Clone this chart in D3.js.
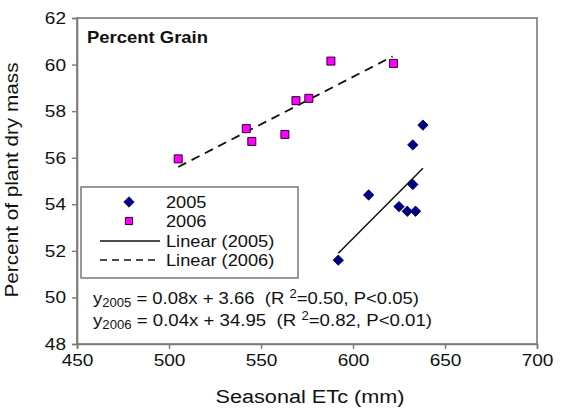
<!DOCTYPE html>
<html><head><meta charset="utf-8">
<script src="https://cdn.jsdelivr.net/npm/d3@7"></script>
<style>
html,body{margin:0;padding:0;background:#fff;}
text{font-family:"Liberation Sans",Arial,Helvetica,sans-serif;fill:#111;}
</style></head>
<body><svg id="chart" width="561" height="412"></svg>
<script>
// ---- data ----
const xTicks = [450, 500, 550, 600, 650, 700];
const yTicks = [48, 50, 52, 54, 56, 58, 60, 62];
const etc2005 = [592, 608.5, 625, 629.5, 634, 632.5, 632.5, 638];
const grain2005 = [51.6, 54.4, 53.9, 53.7, 53.7, 54.85, 56.55, 57.4];
const etc2006 = [505, 542, 545, 563, 569, 576, 588, 622];
const grain2006 = [55.95, 57.25, 56.7, 57.0, 58.45, 58.55, 60.15, 60.05];
const trendX2005 = [592, 638];
const trendY2005 = [51.9, 55.55];
const trendX2006 = [505, 621.5];
const trendY2006 = [55.6, 60.35];
const legendLabels = ["2005", "2006", "Linear (2005)", "Linear (2006)"];
const eq2005 = {sub: "2005", body: " = 0.08x + 3.66  (R ", sup: "2", tail: "=0.50, P<0.05)"};
const eq2006 = {sub: "2006", body: " = 0.04x + 34.95  (R ", sup: "2", tail: "=0.82, P<0.01)"};

// ---- layout ----
const svg = d3.select("#chart");
const L = 77, R = 537, T = 18, B = 344;
const x = d3.scaleLinear().domain([450, 700]).range([L, R]);
const y = d3.scaleLinear().domain([48, 62]).range([B, T]);
const axisColor = "#7a7a7a";

// widen text glyphs (reference font is wider than Liberation Sans)
function widen(sel, k) {
  sel.each(function () {
    const w = this.getComputedTextLength();
    d3.select(this).attr("textLength", w * k).attr("lengthAdjust", "spacingAndGlyphs");
  });
}
function fitTo(sel, w) {
  sel.attr("textLength", w).attr("lengthAdjust", "spacingAndGlyphs");
}

// frame
svg.append("rect").attr("x", L).attr("y", T).attr("width", R - L).attr("height", B - T)
  .attr("fill", "none").attr("stroke", axisColor).attr("stroke-width", 1.6);

// axes
const xa = svg.append("g").attr("transform", `translate(0,${B})`)
  .call(d3.axisBottom(x).tickValues(xTicks).tickSize(5).tickPadding(5).tickFormat(d3.format("d")));
const ya = svg.append("g").attr("transform", `translate(${L},0)`)
  .call(d3.axisLeft(y).tickValues(yTicks).tickSize(5).tickPadding(6).tickFormat(d3.format("d")));
[xa, ya].forEach(a => {
  a.select(".domain").attr("stroke", axisColor).attr("stroke-width", 1.6);
  a.selectAll(".tick line").attr("stroke", axisColor).attr("stroke-width", 1.4);
  a.selectAll(".tick text").attr("font-size", 17).attr("fill", "#111")
    .style("font-family", "'Liberation Sans',Arial,sans-serif");
  widen(a.selectAll(".tick text"), 1.12);
});

// axis titles
fitTo(svg.append("text").attr("x", 310).attr("y", 403).attr("text-anchor", "middle")
  .attr("font-size", 18).text("Seasonal ETc (mm)"), 189);
fitTo(svg.append("text").attr("transform", "translate(18,180) rotate(-90)").attr("text-anchor", "middle")
  .attr("font-size", 17.5).text("Percent of plant dry mass"), 235);

// panel title
fitTo(svg.append("text").attr("x", 87).attr("y", 43).attr("font-size", 17).attr("font-weight", "bold")
  .text("Percent Grain"), 121);

// trend lines
const line = d3.line().x(d => x(d[0])).y(d => y(d[1]));
svg.append("path").datum(d3.zip(trendX2005, trendY2005)).attr("d", line)
  .attr("fill", "none").attr("stroke", "#111").attr("stroke-width", 1.5);
svg.append("path").datum(d3.zip(trendX2006, trendY2006)).attr("d", line)
  .attr("fill", "none").attr("stroke", "#111").attr("stroke-width", 1.8).attr("stroke-dasharray", "9,6");

// symbols
const diamond = d3.symbol().type(d3.symbolSquare).size(54);
const square = d3.symbol().type(d3.symbolSquare).size(64);
svg.append("g").selectAll("path").data(d3.zip(etc2005, grain2005)).join("path")
  .attr("d", diamond).attr("transform", d => `translate(${x(d[0])},${y(d[1])}) rotate(45)`)
  .attr("fill", "#000080").attr("stroke", "#000060").attr("stroke-width", 0.8);
svg.append("g").selectAll("path").data(d3.zip(etc2006, grain2006)).join("path")
  .attr("d", square).attr("transform", d => `translate(${x(d[0])},${y(d[1])})`)
  .attr("fill", "#ff00ff").attr("stroke", "#2a0030").attr("stroke-width", 1);

// legend
const lg = svg.append("g");
lg.append("rect").attr("x", 81).attr("y", 187).attr("width", 217).attr("height", 91)
  .attr("fill", "#fff").attr("stroke", axisColor).attr("stroke-width", 1.5);
const rowY = [202, 221, 241, 260];
lg.append("path").attr("d", diamond).attr("transform", `translate(129,${rowY[0]}) rotate(45)`)
  .attr("fill", "#000080").attr("stroke", "#000060").attr("stroke-width", 0.8);
lg.append("path").attr("d", d3.symbol().type(d3.symbolSquare).size(52))
  .attr("transform", `translate(129,${rowY[1]})`)
  .attr("fill", "#ff00ff").attr("stroke", "#2a0030").attr("stroke-width", 1);
lg.append("line").attr("x1", 100).attr("x2", 160).attr("y1", rowY[2]).attr("y2", rowY[2])
  .attr("stroke", "#111").attr("stroke-width", 1.5);
lg.append("line").attr("x1", 100).attr("x2", 160).attr("y1", rowY[3]).attr("y2", rowY[3])
  .attr("stroke", "#111").attr("stroke-width", 1.5).attr("stroke-dasharray", "7,5");
legendLabels.forEach((t, i) => {
  widen(lg.append("text").attr("x", 166).attr("y", rowY[i]).attr("dy", "0.36em")
    .attr("font-size", 17).text(t), 1.07);
});

// equations
function eq(e, yy, w) {
  const t = svg.append("text").attr("x", 93).attr("y", yy).attr("font-size", 17)
    .attr("xml:space", "preserve").style("white-space", "pre");
  t.append("tspan").text("y");
  t.append("tspan").attr("font-size", 12).attr("dy", 3).text(e.sub);
  t.append("tspan").attr("dy", -3).text(e.body);
  t.append("tspan").attr("font-size", 12).attr("dy", -6).text(e.sup);
  t.append("tspan").attr("dy", 6).text(e.tail);
  widen(t, w / t.node().getComputedTextLength());
}
eq(eq2005, 304, 326);
eq(eq2006, 326, 339);
</script></body></html>
